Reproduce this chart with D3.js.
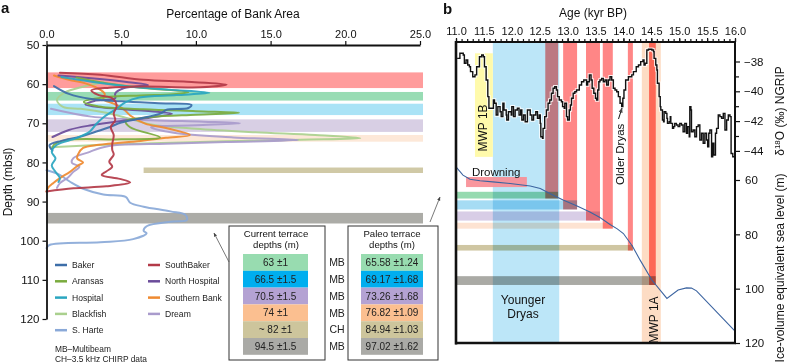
<!DOCTYPE html>
<html><head><meta charset="utf-8">
<script src="https://cdn.jsdelivr.net/npm/d3@7"></script>
<style>
body{margin:0;background:#fff}
svg{display:block}
text{font-family:"Liberation Sans",Arial,Helvetica,sans-serif;fill:#111}
</style>
</head><body>
<svg id="c" width="788" height="362"></svg>
<script>
// ---------------- DATA: panel a ----------------
const pctTicks = [0, 5, 10, 15, 20, 25];
const depthTicks = [50, 60, 70, 80, 90, 100, 110, 120];
const seriesNames = ["Baker","Aransas","Hospital","Blackfish","S. Harte","SouthBaker","North Hospital","Southern Bank","Dream"];
const seriesColors = ["#3d6ea8","#7aab3e","#2aa6c0","#aad08e","#8aa9d8","#b33a48","#6b4c9a","#ef8a30","#a99bcc"];
// [percentage of bank area, depth (mbsl)]
const baker = [[0.5,60.5],[1.5,62.5],[3,63.8],[5,64.4],[7.5,64.9],[9.7,65.3],[9.5,66.1],[8,66.6],[7.7,67.4],[6.5,68.6],[5,69.8],[4.2,71],[3.1,72.4],[2.2,73.5],[1,74.5],[0.2,75.6],[0.4,77]];
const aransas = [[2,58.3],[4,59.8],[6.5,61],[9.5,62.0],[8.5,62.6],[6.3,62.9],[3.8,63.4],[2.5,64.5],[3.5,65.7],[6.5,66.4],[10,66.9],[12.9,67.3],[10,67.8],[7,68.4],[5.3,69.5],[5.6,71],[7.6,73.6],[5,74.1],[1.3,74.3],[0.5,75.5],[0.4,76.5]];
const hospital = [[1.0,58.2],[3.0,59.4],[5.5,60.6],[8.2,61.4],[10.9,62.2],[8.7,62.8],[6.2,63.4],[5.3,64.6],[4.6,66.5],[3.8,68.5],[3.3,70.3],[2.9,72.1],[2.0,73.8],[0.7,75.5],[0.35,77.3],[0.6,79],[0.35,80.7],[0.6,82.4],[0.9,84],[0.8,85]];
const blackfish = [[3.8,59.5],[2.5,60.6],[1.2,62.2],[0.7,64],[1.1,65.8],[2.3,66.3],[4,67.3],[5.5,68.8],[7,70.3],[10,71.4],[14,72.3],[18,73.0],[21,73.8],[17,74.2],[12,74.6],[7,75.1],[3,75.6],[0.3,76.1]];
const sHarte = [[0,82],[0.8,83],[1.6,85],[2.5,86.8],[3.8,88.2],[5.3,88.8],[5.6,90.3],[6.5,91.3],[8.3,92.5],[9.3,93.4],[9.4,94.7],[8.5,95.1],[6.7,96.3],[6.5,97.5],[6.7,98.1],[5.8,99.6],[3.6,100.4],[0.2,101.1],[0,101.9]];
const southBaker = [[0.9,57.1],[3.6,57.6],[6.5,58.9],[9.4,59.4],[12.06,60.1],[10.3,60.8],[6.5,60.6],[4.2,60.9],[3.0,61.6],[3.5,62.8],[4.4,63.6],[4.7,65.5],[4.5,67.5],[4.6,69.2],[4.3,71],[4.5,73],[4.4,75.3],[4.4,76.8],[4.5,78],[4.2,79.8],[4.4,81.1],[4.0,82.3],[3.7,83.2],[4.9,84.2],[5.6,85.1],[4.0,86.1],[1.8,86.6],[0,87.4]];
const northHospital = [[0.8,57.8],[3,58.5],[5.5,59.5],[6.8,60.2],[5.2,61],[4.6,62.4],[4.6,63.6],[3.2,64.3],[2.6,65.2],[3.8,66],[6.6,66.8],[8.4,67.6],[7,68.5],[5,69.4],[3,70.5],[1.5,71.7],[0.4,73.5]];
const southernBank = [[0.5,57.8],[1.5,58.9],[2.6,59.8],[3.4,61],[3.9,62.5],[3.8,63.8],[4.5,65],[5.2,66.5],[5.6,68],[6.6,70.1],[8.0,71.2],[9.6,73],[8,73.7],[6.3,74.5],[3.5,75.5],[2.45,76.3],[2.1,78],[2.05,79],[2.45,80],[2.1,80.8],[1.57,82.4],[0.9,84],[0.44,85.3],[0.1,86.5],[0,87.5]];
const dream = [[0.3,66.3],[3,68.3],[7,69.2],[10.5,69.6],[12.95,70.0],[10,70.5],[7,71.0],[8.5,72.4],[12.5,73.6],[16.85,74.3],[12,74.8],[8,75.2],[4.9,75.5],[3.6,76.3],[2.9,77.3],[1.8,78.9],[1.7,80.1],[2.2,81.1],[1.8,82.4],[1.4,84],[0.9,85.3],[0.7,86.5]];
const seriesData = [baker, aransas, hospital, blackfish, sHarte, southBaker, northHospital, southernBank, dream];
const drawOrder = [4, 3, 8, 7, 6, 1, 0, 2, 5];

// Terrace bands shown in panel a (depth ranges)
const bankBandTop    = [57, 62, 65, 69, 73, 81.3, 92.9];
const bankBandBottom = [61, 64.2, 67.9, 72.2, 74.7, 82.7, 95.6];
const bankBandStart  = [0, 0, 0, 0, 0, 6.5, 0];
const bankBandEnd    = [25.2, 25.2, 25.2, 25.2, 25.2, 25.2, 25.2];
const bankBandColors = ["#ff9c9c","#98dcb4","#aae3f6","#d8cfe4","#fde8d8","#d0c9a6","#acaca7"];

// Tables
const currentDepths = ["63 \u00b11","66.5 \u00b11.5","70.5 \u00b11.5","74 \u00b11","~ 82 \u00b11","94.5 \u00b11.5"];
const methods = ["MB","MB","MB","MB","CH","MB"];
const paleoDepths = ["65.58 \u00b11.24","69.17 \u00b11.68","73.26 \u00b11.68","76.82 \u00b11.09","84.94 \u00b11.03","97.02 \u00b11.62"];
const cellColors = ["#98dcb0","#00aeef","#b4a2d3","#fbbf90","#cdc59c","#aaaaa6"];

// ---------------- DATA: panel b ----------------
const ageTicks = [11.0, 11.5, 12.0, 12.5, 13.0, 13.5, 14.0, 14.5, 15.0, 15.5, 16.0];
const d18oTicks = [-38, -40, -42, -44];
const d18oMinorTicks = [-39, -41, -43];
const slTicks = [60, 80, 100, 120];
// NGRIP d18O [age kyr BP, permil]
const ngrip = [[11.02,-37.79],[11.07,-37.45],[11.13,-37.56],[11.15,-38.12],[11.18,-37.9],[11.21,-38.23],[11.24,-38.35],[11.26,-38.68],[11.30,-39.02],[11.34,-38.9],[11.37,-38.35],[11.42,-37.68],[11.46,-37.56],[11.49,-37.68],[11.51,-38.35],[11.54,-39.24],[11.57,-40.36],[11.59,-41.14],[11.67,-40.58],[11.69,-40.8],[11.72,-41.59],[11.75,-41.03],[11.79,-41.37],[11.81,-41.7],[11.84,-40.8],[11.86,-41.26],[11.90,-41.59],[11.91,-41.93],[11.94,-41.37],[11.99,-41.59],[12.0,-41.03],[12.03,-41.7],[12.06,-41.26],[12.10,-41.14],[12.13,-41.59],[12.16,-41.26],[12.18,-41.93],[12.21,-41.59],[12.24,-42.04],[12.28,-41.26],[12.33,-41.59],[12.36,-41.93],[12.39,-41.59],[12.43,-41.37],[12.46,-41.82],[12.49,-41.59],[12.51,-42.15],[12.52,-43.05],[12.55,-43.16],[12.56,-42.49],[12.59,-41.7],[12.62,-41.26],[12.65,-40.8],[12.68,-40.58],[12.71,-40.13],[12.74,-39.8],[12.77,-39.69],[12.80,-39.91],[12.82,-40.36],[12.85,-40.58],[12.89,-40.7],[12.91,-41.03],[12.94,-41.14],[12.95,-40.8],[12.98,-41.7],[13.0,-41.93],[13.03,-41.26],[13.05,-40.92],[13.07,-40.47],[13.10,-40.13],[13.13,-40.03],[13.16,-39.91],[13.21,-39.58],[13.25,-39.36],[13.29,-39.24],[13.34,-39.58],[13.36,-39.36],[13.39,-38.9],[13.42,-39.24],[13.44,-39.8],[13.47,-40.13],[13.50,-40.47],[13.52,-40.58],[13.54,-39.91],[13.56,-39.36],[13.58,-39.24],[13.61,-39.13],[13.64,-39.36],[13.67,-39.24],[13.70,-39.58],[13.73,-39.24],[13.76,-39.02],[13.79,-39.24],[13.82,-39.8],[13.85,-39.91],[13.88,-40.03],[13.91,-40.36],[13.94,-40.8],[13.97,-41.03],[13.99,-40.47],[14.01,-39.91],[14.04,-39.24],[14.09,-39.02],[14.15,-38.9],[14.18,-38.68],[14.23,-38.35],[14.27,-38.23],[14.31,-38.01],[14.35,-37.9],[14.37,-38.23],[14.39,-38.12],[14.42,-37.23],[14.45,-37.18],[14.51,-37.23],[14.54,-37.34],[14.55,-37.79],[14.58,-38.23],[14.60,-38.57],[14.61,-39.46],[14.64,-40.36],[14.66,-41.03],[14.67,-41.26],[14.70,-41.93],[14.72,-42.04],[14.73,-41.37],[14.76,-41.48],[14.78,-41.82],[14.79,-42.15],[14.82,-42.04],[14.84,-41.7],[14.85,-42.15],[14.88,-42.49],[14.90,-42.37],[14.92,-42.15],[14.95,-42.26],[14.98,-42.37],[15.01,-42.15],[15.04,-42.26],[15.07,-42.71],[15.10,-42.15],[15.13,-42.82],[15.15,-42.37],[15.18,-43.05],[15.19,-41.03],[15.21,-41.26],[15.22,-42.71],[15.25,-42.6],[15.28,-43.05],[15.31,-42.37],[15.34,-42.26],[15.37,-43.27],[15.40,-42.82],[15.43,-43.49],[15.46,-42.82],[15.49,-43.27],[15.51,-43.72],[15.53,-42.82],[15.55,-42.6],[15.58,-44.39],[15.60,-43.49],[15.62,-44.28],[15.65,-42.82],[15.67,-42.49],[15.70,-41.59],[15.73,-41.7],[15.76,-41.82],[15.79,-41.48],[15.82,-42.6],[15.85,-41.93],[15.88,-41.59],[15.91,-41.7],[15.93,-44.17],[15.96,-44.39],[16.0,-44.39]];
// Ice-volume equivalent sea level [age, m]
const seaLevel = [[11.0,55.2],[11.125,58.2],[11.25,59.7],[11.43,60.3],[11.66,60.7],[11.97,61.3],[12.33,62.2],[12.51,63.1],[12.63,64.4],[12.77,65.9],[12.92,67.4],[13.17,69.6],[13.40,71.8],[13.58,73.8],[13.76,76.4],[13.89,78.0],[14.0,79.7],[14.16,84.3],[14.30,89.5],[14.51,96.8],[14.78,103.6],[14.98,100.5],[15.13,99.7],[15.22,99.8],[15.31,100.8],[16.0,115.6]];
// Paleo terrace depths
const paleoMean = [65.58, 69.17, 73.26, 76.82, 84.94, 97.02];
const paleoErr  = [1.24, 1.68, 1.68, 1.09, 1.03, 1.62];
const terraceBandColors = ["#96dab0","#a6dcf4","#d8cde6","#fde3d2","#cfc6a2","#aaaaa5"];
// Drowning intervals (kyr BP)
const drownStart = [12.60, 12.92, 13.33, 13.63, 14.08, 14.46];
const drownEnd   = [12.83, 13.17, 13.58, 13.81, 14.17, 14.58];
// Climate periods
const youngerDryas = [11.66, 12.85];
const mwp1b = [11.34, 11.66];
const mwp1a = [14.33, 14.67];

// ---------------- DRAW ----------------
const svg = d3.select("#c");

function styleAxis(g, fs) {
  g.attr("font-family", null).attr("font-size", null);
  g.selectAll("text").style("font-size", fs + "px").style("fill", "#111");
  g.selectAll(".tick line").attr("stroke", "#111").attr("stroke-width", 1.2);
}

// ======== Panel a ========
const xPct = d3.scaleLinear().domain([0, 25]).range([46.5, 420]);
const yDepth = d3.scaleLinear().domain([50, 120]).range([45, 319]);

const gA = svg.append("g");
gA.selectAll("rect.band").data(bankBandTop).enter().append("rect")
  .attr("x", (d, i) => xPct(bankBandStart[i]))
  .attr("width", (d, i) => xPct(bankBandEnd[i]) - xPct(bankBandStart[i]))
  .attr("y", d => yDepth(d))
  .attr("height", (d, i) => yDepth(bankBandBottom[i]) - yDepth(d))
  .attr("fill", (d, i) => bankBandColors[i]);

const lineA = d3.line().x(d => xPct(d[0])).y(d => yDepth(d[1])).curve(d3.curveCatmullRom.alpha(0.5));
drawOrder.forEach(i => {
  gA.append("path").attr("d", lineA(seriesData[i]))
    .attr("fill", "none").attr("stroke", seriesColors[i])
    .attr("stroke-width", 2).attr("stroke-opacity", 0.92)
    .attr("stroke-linejoin", "round").attr("stroke-linecap", "round");
});

const axTop = gA.append("g").attr("transform", "translate(0,45)")
  .call(d3.axisTop(xPct).tickValues(pctTicks).tickFormat(d3.format(".1f")).tickSize(4).tickSizeOuter(0));
styleAxis(axTop, 11);
axTop.select(".domain").attr("stroke", "#111").attr("stroke-width", 1.8);
const axLeft = gA.append("g").attr("transform", "translate(46.5,0)")
  .call(d3.axisLeft(yDepth).tickValues(depthTicks).tickFormat(d3.format("d")).tickSize(4).tickSizeOuter(0));
styleAxis(axLeft, 11.5);
axLeft.select(".domain").attr("stroke", "#111").attr("stroke-width", 1.8);

gA.append("text").attr("x", 233).attr("y", 18).attr("text-anchor", "middle").style("font-size", "12px").text("Percentage of Bank Area");
gA.append("text").attr("transform", "translate(12,182) rotate(-90)").attr("text-anchor", "middle").style("font-size", "12px").text("Depth (mbsl)");
gA.append("text").attr("x", 1).attr("y", 13).style("font-size", "15px").style("font-weight", "bold").text("a");

seriesNames.forEach((n, i) => {
  const col = i < 5 ? 0 : 1;
  const row = i < 5 ? i : i - 5;
  const x0 = col === 0 ? 55 : 148;
  const yc = 265 + row * 16.3;
  gA.append("line").attr("x1", x0).attr("x2", x0 + 12).attr("y1", yc).attr("y2", yc)
    .attr("stroke", seriesColors[i]).attr("stroke-width", 2.5);
  gA.append("text").attr("x", x0 + 17).attr("y", yc + 3).style("font-size", "8.6px").style("fill", "#222").text(n);
});
gA.append("text").attr("x", 55).attr("y", 352).style("font-size", "8.4px").style("fill", "#222").text("MB\u2013Multibeam");
gA.append("text").attr("x", 55).attr("y", 361.5).style("font-size", "8.4px").style("fill", "#222").text("CH\u20133.5 kHz CHIRP data");

// tables
const rowTop = 254, rowH = 16.8;
svg.append("rect").attr("x", 229).attr("y", 226).attr("width", 96).attr("height", 134)
  .attr("fill", "none").attr("stroke", "#333").attr("stroke-width", 1);
svg.append("rect").attr("x", 348).attr("y", 226).attr("width", 90).attr("height", 134)
  .attr("fill", "none").attr("stroke", "#333").attr("stroke-width", 1);
svg.append("text").attr("x", 276).attr("y", 236.5).attr("text-anchor", "middle").style("font-size", "9.6px").text("Current terrace");
svg.append("text").attr("x", 276).attr("y", 247.5).attr("text-anchor", "middle").style("font-size", "9.6px").text("depths (m)");
svg.append("text").attr("x", 392).attr("y", 236.5).attr("text-anchor", "middle").style("font-size", "9.6px").text("Paleo terrace");
svg.append("text").attr("x", 392).attr("y", 247.5).attr("text-anchor", "middle").style("font-size", "9.6px").text("depths (m)");
currentDepths.forEach((t, i) => {
  const y = rowTop + i * rowH;
  svg.append("rect").attr("x", 243).attr("y", y).attr("width", 65).attr("height", rowH).attr("fill", cellColors[i]);
  svg.append("text").attr("x", 275.5).attr("y", y + rowH / 2 + 3.6).attr("text-anchor", "middle").style("font-size", "10px").style("fill", "#222").text(t);
  svg.append("rect").attr("x", 361).attr("y", y).attr("width", 62).attr("height", rowH).attr("fill", cellColors[i]);
  svg.append("text").attr("x", 392).attr("y", y + rowH / 2 + 3.6).attr("text-anchor", "middle").style("font-size", "10px").style("fill", "#222").text(paleoDepths[i]);
  svg.append("text").attr("x", 337).attr("y", y + rowH / 2 + 3.8).attr("text-anchor", "middle").style("font-size", "10.5px").style("fill", "#222").text(methods[i]);
});

// arrows
const defs = svg.append("defs");
defs.append("marker").attr("id", "ah").attr("viewBox", "0 0 10 10").attr("refX", 9).attr("refY", 5)
  .attr("markerWidth", 5).attr("markerHeight", 5).attr("orient", "auto")
  .append("path").attr("d", "M0,1 L10,5 L0,9 z").attr("fill", "#444");
svg.append("line").attr("x1", 229).attr("y1", 262).attr("x2", 214).attr("y2", 233)
  .attr("stroke", "#555").attr("stroke-width", 0.8).attr("marker-end", "url(#ah)");
svg.append("line").attr("x1", 430).attr("y1", 222).attr("x2", 440).attr("y2", 197)
  .attr("stroke", "#555").attr("stroke-width", 0.8).attr("marker-end", "url(#ah)");

// ======== Panel b ========
const xAge = d3.scaleLinear().domain([11, 16]).range([456, 735]);
const yD18 = d3.scaleLinear().domain([-44, -38]).range([150.9, 61.5]);
const ySL = d3.scaleLinear().domain([60, 120]).range([180, 343]);
const pTop = 42, pBot = 343;
const gB = svg.append("g");

gB.append("rect").attr("x", xAge(youngerDryas[0])).attr("width", xAge(youngerDryas[1]) - xAge(youngerDryas[0]))
  .attr("y", pTop).attr("height", pBot - pTop).attr("fill", "#bce6f8");
gB.append("rect").attr("x", xAge(mwp1b[0])).attr("width", xAge(mwp1b[1]) - xAge(mwp1b[0]))
  .attr("y", yD18(-37.45)).attr("height", yD18(-44.4) - yD18(-37.45)).attr("fill", "#fffaab");
gB.append("rect").attr("x", xAge(mwp1a[0])).attr("width", xAge(mwp1a[1]) - xAge(mwp1a[0]))
  .attr("y", pTop).attr("height", pBot - pTop).attr("fill", "#fddcc4");
paleoMean.forEach((m, i) => {
  gB.append("rect").attr("x", xAge(11)).attr("width", xAge(drownEnd[i]) - xAge(11))
    .attr("y", ySL(m - paleoErr[i])).attr("height", ySL(m + paleoErr[i]) - ySL(m - paleoErr[i]))
    .attr("fill", terraceBandColors[i]).style("mix-blend-mode", "multiply");
});
drownStart.forEach((s, i) => {
  gB.append("rect").attr("x", xAge(s)).attr("width", xAge(drownEnd[i]) - xAge(s))
    .attr("y", pTop).attr("height", ySL(paleoMean[i] + paleoErr[i]) - pTop)
    .attr("fill", i === 5 ? "#ff7870" : "#ff8686").style("mix-blend-mode", "multiply");
});
gB.append("rect").attr("x", xAge(11.18)).attr("width", xAge(12.27) - xAge(11.18))
  .attr("y", ySL(58.9)).attr("height", ySL(62.6) - ySL(58.9)).attr("fill", "#f88c94").attr("opacity", 0.9);
gB.append("text").attr("x", xAge(11.72)).attr("y", 176).attr("text-anchor", "middle").style("font-size", "11.5px").text("Drowning");

const lineSL = d3.line().x(d => xAge(d[0])).y(d => ySL(d[1]));
gB.append("path").attr("d", lineSL(seaLevel)).attr("fill", "none").attr("stroke", "#3c64a0").attr("stroke-width", 1.1);

const lineN = d3.line().x(d => xAge(d[0])).y(d => yD18(d[1])).curve(d3.curveStepAfter);
gB.append("path").attr("d", lineN(ngrip)).attr("fill", "none").attr("stroke", "#fff").attr("stroke-width", 3.4).attr("stroke-opacity", 0.85);
gB.append("path").attr("d", lineN(ngrip)).attr("fill", "none").attr("stroke", "#111").attr("stroke-width", 1.4);

gB.append("text").attr("transform", "translate(486.5,128) rotate(-90)").attr("text-anchor", "middle").style("font-size", "12px").text("MWP 1B");
gB.append("text").attr("transform", "translate(658,320) rotate(-90)").attr("text-anchor", "middle").style("font-size", "12px").text("MWP 1A");
gB.append("text").attr("transform", "translate(623.5,185) rotate(-90)").attr("text-anchor", "start").style("font-size", "11.5px").text("Older Dryas");
gB.append("line").attr("x1", 618.5).attr("y1", 119).attr("x2", 622).attr("y2", 108)
  .attr("stroke", "#111").attr("stroke-width", 1).attr("marker-end", "url(#ah)");
gB.append("text").attr("x", 523).attr("y", 304).attr("text-anchor", "middle").style("font-size", "12px").text("Younger");
gB.append("text").attr("x", 523).attr("y", 318).attr("text-anchor", "middle").style("font-size", "12px").text("Dryas");

gB.append("line").attr("x1", 456).attr("x2", 456).attr("y1", pTop - 1).attr("y2", pBot + 1.5).attr("stroke", "#111").attr("stroke-width", 2.6);
gB.append("line").attr("x1", 455).attr("x2", 736).attr("y1", pBot).attr("y2", pBot).attr("stroke", "#111").attr("stroke-width", 2.6);
gB.append("line").attr("x1", 455).attr("x2", 736).attr("y1", pTop).attr("y2", pTop).attr("stroke", "#111").attr("stroke-width", 2);
gB.append("line").attr("x1", 735).attr("x2", 735).attr("y1", pTop - 1).attr("y2", pBot + 1).attr("stroke", "#111").attr("stroke-width", 2);

const axMinor = gB.append("g").attr("transform", `translate(0,${pTop})`)
  .call(d3.axisTop(xAge).tickValues(d3.range(110, 161).map(v => v / 10)).tickFormat("").tickSize(3).tickSizeOuter(0));
styleAxis(axMinor, 11); axMinor.select(".domain").remove();
const axAge = gB.append("g").attr("transform", `translate(0,${pTop})`)
  .call(d3.axisTop(xAge).tickValues(ageTicks).tickFormat(d3.format(".1f")).tickSize(4).tickSizeOuter(0));
styleAxis(axAge, 11); axAge.select(".domain").remove();

const axD = gB.append("g").attr("transform", "translate(735,0)")
  .call(d3.axisRight(yD18).tickValues(d18oTicks).tickFormat(d3.format("d")).tickSize(5).tickPadding(4).tickSizeOuter(0));
styleAxis(axD, 11.5); axD.select(".domain").remove();
const axDm = gB.append("g").attr("transform", "translate(735,0)")
  .call(d3.axisRight(yD18).tickValues(d18oMinorTicks).tickFormat("").tickSize(4).tickSizeOuter(0));
styleAxis(axDm, 11.5); axDm.select(".domain").remove();
const axSL = gB.append("g").attr("transform", "translate(735,0)")
  .call(d3.axisRight(ySL).tickValues(slTicks).tickFormat(d3.format("d")).tickSize(5).tickPadding(5).tickSizeOuter(0));
styleAxis(axSL, 11.5); axSL.select(".domain").remove();

gB.append("text").attr("x", 593).attr("y", 17).attr("text-anchor", "middle").style("font-size", "12px").text("Age (kyr BP)");
gB.append("text").attr("x", 443).attr("y", 14).style("font-size", "15px").style("font-weight", "bold").text("b");
const dl = gB.append("text").attr("transform", "translate(784,111) rotate(-90)").attr("text-anchor", "middle").style("font-size", "12px");
dl.append("tspan").text("\u03b4");
dl.append("tspan").attr("dy", -4.5).style("font-size", "8px").text("18");
dl.append("tspan").attr("dy", 4.5).text("O (\u2030) NGRIP");
gB.append("text").attr("transform", "translate(784,268) rotate(-90)").attr("text-anchor", "middle").style("font-size", "12px").text("Ice-volume equivalent sea level (m)");
</script>
</body></html>
